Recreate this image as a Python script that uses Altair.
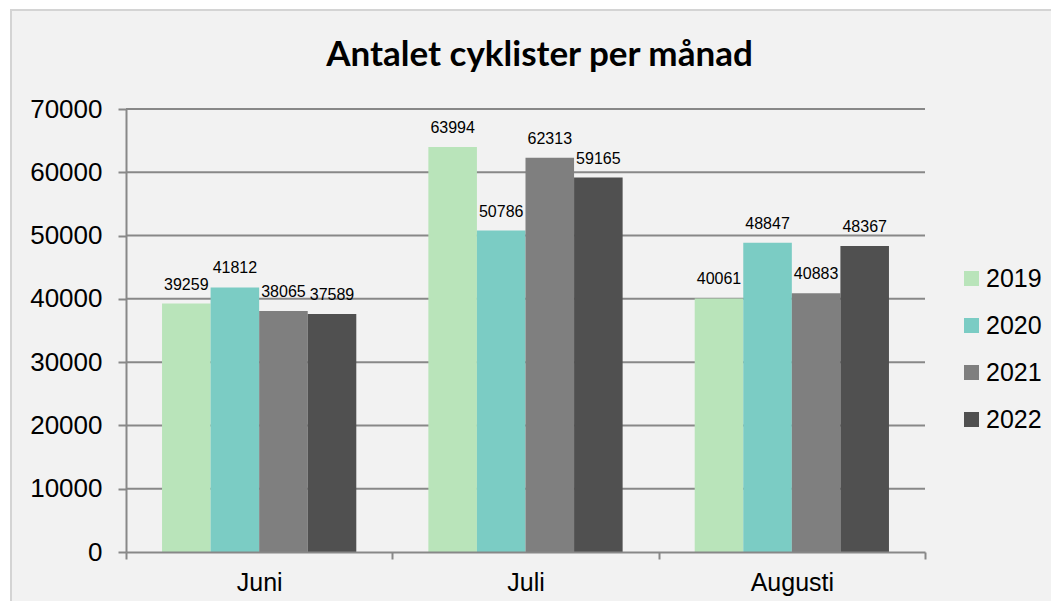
import altair as alt
import pandas as pd

months = ["Juni", "Juli", "Augusti"]
years = ["2019", "2020", "2021", "2022"]
values_2019 = [39259, 63994, 40061]
values_2020 = [41812, 50786, 48847]
values_2021 = [38065, 62313, 40883]
values_2022 = [37589, 59165, 48367]
colors = ["#b9e4ba", "#7bccc4", "#7f7f7f", "#505050"]

series = [values_2019, values_2020, values_2021, values_2022]
rows = []
for y, vals in zip(years, series):
    for m, v in zip(months, vals):
        rows.append({"month": m, "year": y, "value": v})
df = pd.DataFrame(rows)

x_enc = alt.X("month:N", sort=months, title=None,
              scale=alt.Scale(paddingInner=0, paddingOuter=0),
              axis=alt.Axis(labelAngle=0, tickBand="extent", tickSize=7,
                            labelPadding=11, labelFontSize=25, grid=False,
                            domainColor="#888888", tickColor="#888888",
                            domainWidth=2, tickWidth=2, zindex=1))
xo_enc = alt.XOffset("year:N", sort=years,
                     scale=alt.Scale(paddingInner=0, paddingOuter=0.742))
y_enc = alt.Y("value:Q", title=None,
              scale=alt.Scale(domain=[0, 70000], nice=False),
              axis=alt.Axis(values=list(range(0, 70001, 10000)), format="d",
                            tickSize=8, labelPadding=16, labelFontSize=26,
                            grid=False,
                            domainColor="#888888", tickColor="#888888",
                            domainWidth=2, tickWidth=2, zindex=1))

bg = alt.Chart(df).mark_rect(fill="#f2f2f2", stroke="#d4d4d4", strokeWidth=2).encode(
    x=alt.value(-115), x2=alt.value(1000), y=alt.value(-99), y2=alt.value(700)
)

grid = alt.Chart(pd.DataFrame({"g": list(range(10000, 70001, 10000))})).mark_rule(
    color="#888888", strokeWidth=2).encode(
    y=alt.Y("g:Q", scale=alt.Scale(domain=[0, 70000], nice=False)),
    x=alt.value(0), x2=alt.value(799)
)

bars = alt.Chart(df).mark_bar().encode(
    x=x_enc, xOffset=xo_enc, y=y_enc,
    color=alt.Color("year:N", sort=years,
                    scale=alt.Scale(domain=years, range=colors),
                    legend=alt.Legend(orient="none", legendX=833, legendY=157,
                                      title=None, symbolType="square",
                                      symbolSize=225, symbolStrokeWidth=0,
                                      labelFontSize=25, labelOffset=2,
                                      rowPadding=21))
)

labels = alt.Chart(df).mark_text(baseline="alphabetic", dy=-14, fontSize=16,
                                 font="Liberation Sans", color="#000000").encode(
    x=alt.X("month:N", sort=months), xOffset=xo_enc,
    y=alt.Y("value:Q"), text=alt.Text("value:Q", format="d")
)

chart = alt.layer(bg, grid, bars, labels).properties(
    width=799, height=443,
    title=alt.Title("Antalet cyklister per månad", font="Lato", fontSize=35,
                    fontWeight="bold", color="#000000", anchor="middle",
                    baseline="alphabetic", dx=14, offset=-92),
    autosize=alt.AutoSizeParams(type="none"),
    padding={"left": 118, "top": 101, "right": 126, "bottom": 49},
    background="#ffffff",
).configure(font="Liberation Sans").configure_axis(
    labelColor="#000000", labelFont="Liberation Sans"
).configure_legend(
    labelColor="#000000", labelFont="Liberation Sans"
).configure_view(stroke=None)

chart.save("out.html", embed_options={"renderer": "svg", "actions": False})
